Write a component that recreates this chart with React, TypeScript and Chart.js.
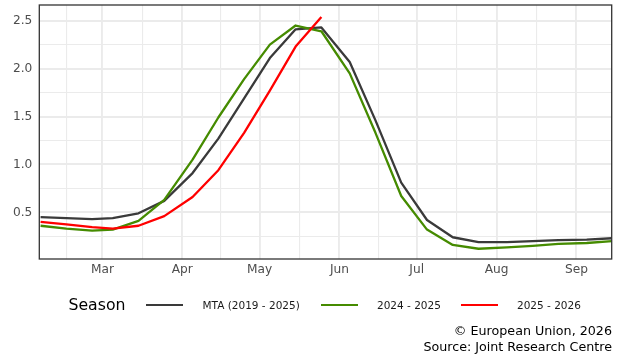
import React, { useEffect, useRef } from "react";
import { Chart, registerables } from "chart.js";

Chart.register(...registerables);

// Day of year (Jan 1 = 0) of each dekadal observation (5th, 15th, 25th of each month)
const dekadDays = [35, 45, 55, 63, 73, 83, 94, 104, 114, 124, 134, 144, 155, 165, 175, 185, 195, 205, 216, 226, 236, 247, 257];

const mtaValues = [0.45, 0.44, 0.43, 0.44, 0.49, 0.62, 0.91, 1.27, 1.69, 2.11, 2.41, 2.43, 2.07, 1.46, 0.81, 0.42, 0.24, 0.19, 0.19, 0.2, 0.21, 0.215, 0.23];
const season2425Values = [0.36, 0.33, 0.31, 0.32, 0.41, 0.63, 1.05, 1.49, 1.89, 2.25, 2.45, 2.39, 1.95, 1.33, 0.67, 0.32, 0.16, 0.12, 0.135, 0.15, 0.17, 0.18, 0.2];
const season2526Values = [0.4, 0.375, 0.345, 0.33, 0.36, 0.46, 0.66, 0.94, 1.33, 1.77, 2.23, 2.54];

const seriesLabels = ["MTA (2019 - 2025)", "2024 - 2025", "2025 - 2026"];
const seriesColors = ["#3a3a3a", "#458B00", "#ff0000"];

const monthStartDays = [59, 90, 120, 151, 181, 212, 243];
const monthLabels = ["Mar", "Apr", "May", "Jun", "Jul", "Aug", "Sep"];
const monthMinorDays = [45, 74.5, 105, 135.5, 166, 196.5, 227.5];

const yMajorTicks = [0.5, 1.0, 1.5, 2.0, 2.5];
const yMinorTicks = [0.25, 0.75, 1.25, 1.75, 2.25];

const legendTitle = "Season";
const captionLines = ["© European Union, 2026", "Source: Joint Research Centre"];

const FONT = "'DejaVu Sans', sans-serif";

const toPoints = (vals: number[]) => vals.map((v, i) => ({ x: dekadDays[i], y: v }));

const borderPlugin = {
  id: "panelBorder",
  afterDraw(chart: any) {
    const { ctx, chartArea } = chart;
    ctx.save();
    ctx.strokeStyle = "#333333";
    ctx.lineWidth = 1.3;
    ctx.strokeRect(chartArea.left, chartArea.top, chartArea.right - chartArea.left, chartArea.bottom - chartArea.top);
    ctx.restore();
  },
};

const zeroPadding = (scale: any) => {
  scale.paddingTop = 0;
  scale.paddingBottom = 0;
  scale.paddingLeft = 0;
  scale.paddingRight = 0;
};

export default function App() {
  const canvasRef = useRef<HTMLCanvasElement | null>(null);

  useEffect(() => {
    if (!canvasRef.current) return;
    const seriesValues = [mtaValues, season2425Values, season2526Values];
    const chart = new Chart(canvasRef.current, {
      type: "line",
      data: {
        datasets: seriesValues.map((vals, i) => ({
          label: seriesLabels[i],
          data: toPoints(vals),
          borderColor: seriesColors[i],
          backgroundColor: seriesColors[i],
          borderWidth: 2.3,
          pointRadius: 0,
          tension: 0,
          fill: false,
          borderJoinStyle: "round" as const,
          order: 2 - i,
        })),
      },
      options: {
        animation: false,
        responsive: false,
        maintainAspectRatio: false,
        layout: { padding: { left: 0, top: 5, right: 7.3, bottom: 0 } },
        plugins: { legend: { display: false }, tooltip: { enabled: false } },
        scales: {
          x: {
            type: "linear",
            min: 34.5,
            max: 256.7,
            afterBuildTicks: (scale: any) => {
              scale.ticks = [...monthMinorDays, ...monthStartDays]
                .sort((a, b) => a - b)
                .map((v) => ({ value: v }));
            },
            afterFit: (scale: any) => {
              scale.height = 99;
              zeroPadding(scale);
            },
            ticks: {
              autoSkip: false,
              maxRotation: 0,
              padding: 4,
              color: "#4d4d4d",
              font: { family: FONT, size: 12.2 },
              callback: (v: any) => {
                const idx = monthStartDays.indexOf(Number(v));
                return idx >= 0 ? monthLabels[idx] : "";
              },
            },
            grid: {
              drawTicks: false,
              color: "#ebebeb",
              lineWidth: (ctx: any) => (ctx.tick && monthStartDays.includes(ctx.tick.value) ? 1.9 : 1.1),
            },
            border: { display: false },
          },
          y: {
            type: "linear",
            min: 0.013,
            max: 2.664,
            afterBuildTicks: (scale: any) => {
              scale.ticks = [...yMinorTicks, ...yMajorTicks]
                .sort((a, b) => a - b)
                .map((v) => ({ value: v }));
            },
            afterFit: (scale: any) => {
              scale.width = 39.3;
              zeroPadding(scale);
            },
            ticks: {
              autoSkip: false,
              padding: 7,
              color: "#4d4d4d",
              font: { family: FONT, size: 12.2 },
              callback: (v: any) => (yMajorTicks.includes(Number(v)) ? Number(v).toFixed(1) : ""),
            },
            grid: {
              drawTicks: false,
              color: "#ebebeb",
              lineWidth: (ctx: any) => (ctx.tick && yMajorTicks.includes(ctx.tick.value) ? 1.9 : 1.1),
            },
            border: { display: false },
          },
        },
      },
      plugins: [borderPlugin],
    });
    return () => chart.destroy();
  }, []);

  const samplePositions = [146, 320.6, 461];
  const labelPositions = [202.5, 377, 517];

  return (
    <div style={{ position: "absolute", left: 0, top: 0, width: 619, height: 358, background: "#ffffff", fontFamily: FONT }}>
      <canvas ref={canvasRef} width={619} height={358} style={{ position: "absolute", left: 0, top: 0, width: 619, height: 358 }} />
      <div style={{ position: "absolute", left: 68.5, top: 295, lineHeight: "20px", fontSize: 15.7, color: "#000", whiteSpace: "nowrap" }}>
        {legendTitle}
      </div>
      {seriesLabels.map((lab, i) => (
        <React.Fragment key={lab}>
          <div style={{ position: "absolute", left: samplePositions[i], top: 303.85, width: 37, height: 2.3, background: seriesColors[i] }} />
          <div style={{ position: "absolute", left: labelPositions[i], top: 295, lineHeight: "20px", fontSize: 10.5, color: "#1a1a1a", whiteSpace: "nowrap" }}>
            {lab}
          </div>
        </React.Fragment>
      ))}
      <div style={{ position: "absolute", right: 7, top: 323, textAlign: "right", fontSize: 12.7, lineHeight: "16px", color: "#000", whiteSpace: "nowrap" }}>
        {captionLines.map((t) => (
          <div key={t}>{t}</div>
        ))}
      </div>
    </div>
  );
}
